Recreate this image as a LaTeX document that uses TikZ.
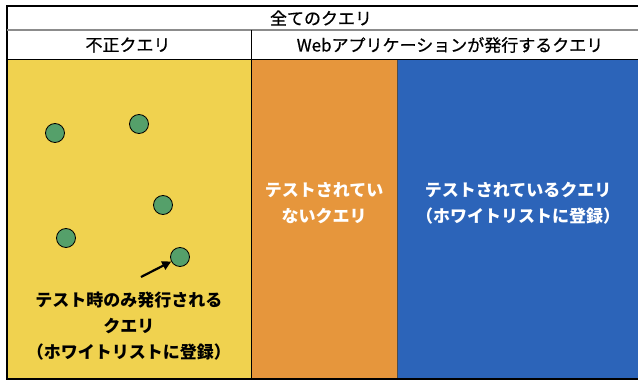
\documentclass[tikz,border=0pt]{standalone}
\usepackage{fontspec}
\newfontfamily\jp{Noto Sans CJK JP}
\newfontfamily\jpm[FakeBold=0.6]{Noto Sans CJK JP}
\usetikzlibrary{arrows.meta}
\definecolor{cyel}{HTML}{F0D24F}
\definecolor{cora}{HTML}{E6963C}
\definecolor{cblu}{HTML}{2C64B9}
\definecolor{cgrn}{HTML}{55A06A}
\tikzset{
  dot/.style={circle,draw=black,line width=0.8pt,fill=cgrn,minimum size=19pt,inner sep=0pt},
  hdr/.style={font=\jpm\fontsize{17}{20}\selectfont,inner sep=0pt},
  body/.style={font=\jp\bfseries\fontsize{17}{26}\selectfont,align=center,inner sep=0pt},
}
\begin{document}
\begin{tikzpicture}[x=1pt,y=-1pt]
\useasboundingbox (0,0) rectangle (638,380);
\fill[white] (0,0) rectangle (638,380);
% colored regions
\fill[cyel] (7,59) rectangle (251,379);
\fill[cora] (251,59) rectangle (397,379);
\fill[cblu] (397,59) rectangle (640,379);
\draw[black!70,line width=0.8pt] (397,59) -- (397,379);
% frame
\draw[line width=2pt] (642,6) -- (6.5,6) -- (6.5,379);
\draw[black!45,line width=1.2pt] (7,30) -- (640,30);
\draw[line width=1pt] (7,59) -- (640,59);
\draw[line width=1pt] (251,30) -- (251,379);
\draw[line width=1.5pt] (6,379) -- (640,379);
% headers
\node[hdr] (all) at (321,18) {全てのクエリ};
\node[hdr] (bad) at (128,45) {不正クエリ};
\node[hdr] (web) at (450,45) {Webアプリケーションが発行するクエリ};
% dots
\node[dot] (d1) at (55,133) {};
\node[dot] (d2) at (139,124) {};
\node[dot] (d3) at (163,205) {};
\node[dot] (d4) at (66,238) {};
\node[dot] (d5) at (180,257) {};
\coordinate (as) at (141,277);
\draw[-{Triangle[length=9pt,width=9pt]},line width=2.2pt] (as) -- (d5);
% texts
\node[body] (t1) at (129,326) {テスト時のみ発行される\\クエリ\\（ホワイトリストに登録）};
\node[body,text=white] (t2) at (324,203) {テストされてい\\ないクエリ};
\node[body,text=white] (t3) at (518,203) {テストされているクエリ\\（ホワイトリストに登録）};
\end{tikzpicture}
\end{document}
